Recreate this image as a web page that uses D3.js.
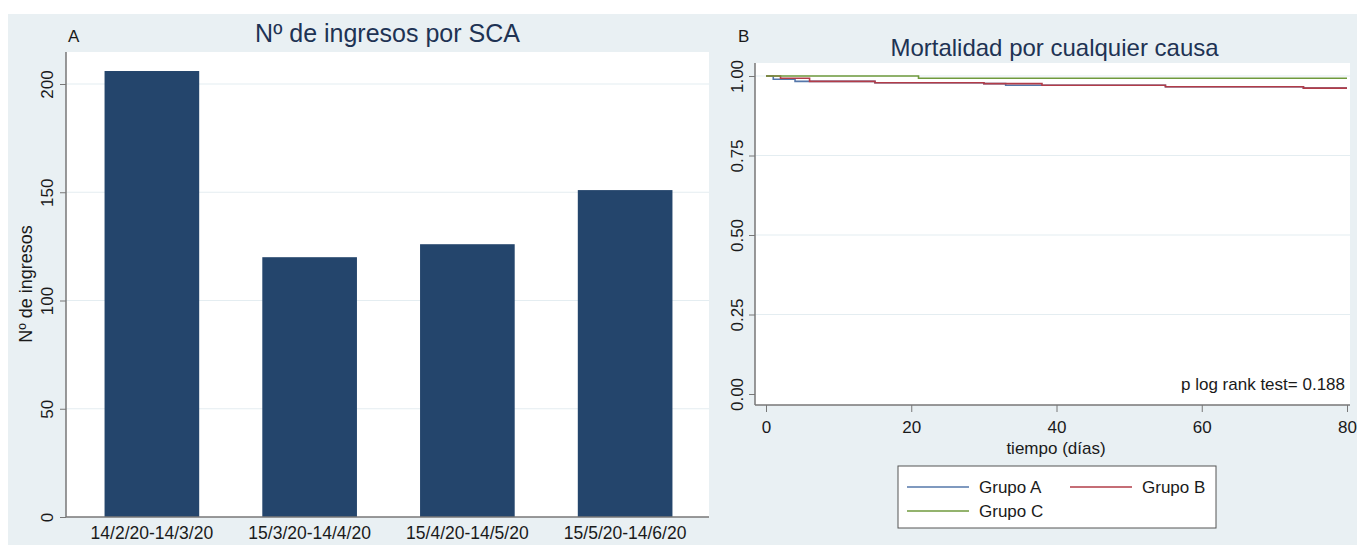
<!DOCTYPE html>
<html>
<head>
<meta charset="utf-8">
<script src="https://cdn.jsdelivr.net/npm/d3@7"></script>
<style>
  body { margin: 0; background: #fff; }
  text { font-family: "Liberation Sans", Arial, sans-serif; fill: #1a1a1a; }
</style>
</head>
<body>
<div id="chart"></div>
<script>
// panel A data
var categories = ["14/2/20-14/3/20", "15/3/20-14/4/20", "15/4/20-14/5/20", "15/5/20-14/6/20"];
var ingresos = [206, 120, 126, 151];
var ticksA = [0, 50, 100, 150, 200];

// panel B data (Kaplan-Meier steps)
var grupoA_t = [0, 1, 4, 15, 30, 33, 55, 74, 80];
var grupoA_s = [1, 0.990, 0.983, 0.979, 0.976, 0.971, 0.966, 0.962, 0.962];
var grupoB_t = [0, 2, 6, 15, 30, 38, 55, 74, 80];
var grupoB_s = [1, 0.993, 0.983, 0.979, 0.976, 0.971, 0.966, 0.962, 0.962];
var grupoC_t = [0, 21, 80];
var grupoC_s = [1, 0.993, 0.993];
var ticksBy = [0, 0.25, 0.5, 0.75, 1];
var ticksBx = [0, 20, 40, 60, 80];
var groupNames = ["Grupo A", "Grupo B", "Grupo C"];
var groupColors = ["#5577aa", "#b23c48", "#6f9a3c"];

var svg = d3.select("#chart").append("svg")
    .attr("width", 1357)
    .attr("height", 547);

// graph region background
svg.append("rect")
    .attr("x", 8).attr("y", 14)
    .attr("width", 1349).attr("height", 531)
    .attr("fill", "#e9f0f3");

// ---------- panel A ----------
var a = { left: 66, right: 709, top: 52, bottom: 517 };

svg.append("rect")
    .attr("x", a.left).attr("y", a.top)
    .attr("width", a.right - a.left).attr("height", a.bottom - a.top)
    .attr("fill", "#fff");

var xA = d3.scaleBand()
    .domain(categories)
    .range([73, 704])
    .paddingInner(0.4)
    .paddingOuter(0.2);

var yA = d3.scaleLinear()
    .domain([0, 200])
    .range([517, 84]);

// grid
svg.append("g").selectAll("line")
    .data(ticksA.filter(function(d){ return d > 0; }))
    .enter().append("line")
        .attr("x1", a.left).attr("x2", a.right)
        .attr("y1", function(d){ return yA(d); })
        .attr("y2", function(d){ return yA(d); })
        .attr("stroke", "#e4edf1")
        .attr("stroke-width", 1.2);

// bars
svg.append("g").selectAll("rect")
    .data(ingresos)
    .enter().append("rect")
        .attr("x", function(d, i){ return xA(categories[i]); })
        .attr("y", function(d){ return yA(d); })
        .attr("width", xA.bandwidth())
        .attr("height", function(d){ return yA(0) - yA(d); })
        .attr("fill", "#24456c");

// y axis
var yAxisA = svg.append("g")
    .attr("transform", "translate(" + a.left + ",0)")
    .call(d3.axisLeft(yA).tickValues(ticksA).tickSize(6).tickFormat(d3.format("d")));
yAxisA.select(".domain").attr("d", "M0," + a.top + "V" + a.bottom).attr("stroke", "#777").attr("stroke-width", 1.5);
yAxisA.selectAll(".tick line").attr("stroke", "#777");
yAxisA.selectAll(".tick text")
    .attr("font-size", "17px")
    .attr("fill", "#1a1a1a")
    .attr("text-anchor", "middle")
    .attr("transform", "rotate(-90)")
    .attr("x", 0).attr("y", -13).attr("dy", 0);

// x axis
var xAxisA = svg.append("g")
    .attr("transform", "translate(0," + a.bottom + ")")
    .call(d3.axisBottom(xA).tickSize(0));
xAxisA.select(".domain").attr("d", "M" + a.left + ",0H" + a.right).attr("stroke", "#777").attr("stroke-width", 1.5);
xAxisA.selectAll(".tick text")
    .attr("font-size", "17.5px")
    .attr("fill", "#1a1a1a")
    .attr("y", 22).attr("dy", 0);

svg.append("text")
    .attr("transform", "translate(32,284) rotate(-90)")
    .attr("text-anchor", "middle")
    .attr("font-size", "18px")
    .text("Nº de ingresos");

svg.append("text")
    .attr("x", 68).attr("y", 42)
    .attr("font-size", "17px")
    .text("A");

svg.append("text")
    .attr("x", (a.left + a.right) / 2).attr("y", 42)
    .attr("text-anchor", "middle")
    .attr("font-size", "25px")
    .style("fill", "#1e3354")
    .text("Nº de ingresos por SCA");

// ---------- panel B ----------
var b = { left: 755, right: 1350, top: 63, bottom: 405 };

svg.append("rect")
    .attr("x", b.left).attr("y", b.top)
    .attr("width", b.right - b.left).attr("height", b.bottom - b.top)
    .attr("fill", "#fff");

var xB = d3.scaleLinear().domain([0, 80]).range([766, 1347]);
var yB = d3.scaleLinear().domain([0, 1]).range([394, 76]);

svg.append("g").selectAll("line")
    .data(ticksBy.filter(function(d){ return d > 0; }))
    .enter().append("line")
        .attr("x1", b.left).attr("x2", b.right)
        .attr("y1", function(d){ return yB(d); })
        .attr("y2", function(d){ return yB(d); })
        .attr("stroke", "#e4edf1")
        .attr("stroke-width", 1.2);

var yAxisB = svg.append("g")
    .attr("transform", "translate(" + b.left + ",0)")
    .call(d3.axisLeft(yB).tickValues(ticksBy).tickSize(6).tickFormat(d3.format(".2f")));
yAxisB.select(".domain").attr("d", "M0," + b.top + "V" + b.bottom).attr("stroke", "#777").attr("stroke-width", 1.5);
yAxisB.selectAll(".tick line").attr("stroke", "#777");
yAxisB.selectAll(".tick text")
    .attr("font-size", "17px")
    .attr("fill", "#1a1a1a")
    .attr("text-anchor", "middle")
    .attr("transform", "rotate(-90)")
    .attr("x", 0).attr("y", -12).attr("dy", 0);

var xAxisB = svg.append("g")
    .attr("transform", "translate(0," + b.bottom + ")")
    .call(d3.axisBottom(xB).tickValues(ticksBx).tickSize(7));
xAxisB.select(".domain").attr("d", "M" + b.left + ",0H" + b.right).attr("stroke", "#777").attr("stroke-width", 1.5);
xAxisB.selectAll(".tick line").attr("stroke", "#777");
xAxisB.selectAll(".tick text")
    .attr("font-size", "17px")
    .attr("fill", "#1a1a1a")
    .attr("y", 28).attr("dy", 0);

svg.append("text")
    .attr("x", 1056).attr("y", 454)
    .attr("text-anchor", "middle")
    .attr("font-size", "17px")
    .text("tiempo (días)");

// survival curves
var series = [
    d3.zip(grupoA_t, grupoA_s),
    d3.zip(grupoB_t, grupoB_s),
    d3.zip(grupoC_t, grupoC_s)
];

var line = d3.line()
    .x(function(d){ return xB(d[0]); })
    .y(function(d){ return yB(d[1]); })
    .curve(d3.curveStepAfter);

svg.append("g").selectAll("path")
    .data(series)
    .enter().append("path")
        .attr("d", line)
        .attr("fill", "none")
        .attr("stroke", function(d, i){ return groupColors[i]; })
        .attr("stroke-width", 1.6);

svg.append("text")
    .attr("x", 1345).attr("y", 390)
    .attr("text-anchor", "end")
    .attr("font-size", "17px")
    .text("p log rank test= 0.188");

svg.append("text")
    .attr("x", 738).attr("y", 42)
    .attr("font-size", "17px")
    .text("B");

svg.append("text")
    .attr("x", (b.left + b.right) / 2 + 2).attr("y", 56)
    .attr("text-anchor", "middle")
    .attr("font-size", "24px")
    .style("fill", "#1e3354")
    .text("Mortalidad por cualquier causa");

// legend
var legend = svg.append("g");
legend.append("rect")
    .attr("x", 898).attr("y", 466)
    .attr("width", 318).attr("height", 62)
    .attr("fill", "#fff")
    .attr("stroke", "#555")
    .attr("stroke-width", 1);

var legPos = [[907, 487], [1070, 487], [907, 511]];
groupNames.forEach(function(name, i){
    var p = legPos[i];
    legend.append("line")
        .attr("x1", p[0]).attr("x2", p[0] + 62)
        .attr("y1", p[1]).attr("y2", p[1])
        .attr("stroke", groupColors[i])
        .attr("stroke-width", 1.6);
    legend.append("text")
        .attr("x", p[0] + 72).attr("y", p[1] + 6)
        .attr("font-size", "17px")
        .text(name);
});
</script>
</body>
</html>
